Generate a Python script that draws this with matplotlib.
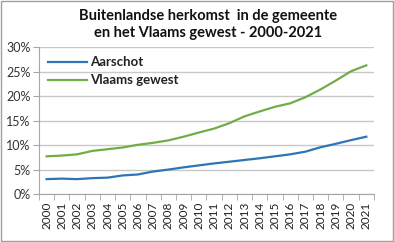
import numpy as np
import matplotlib
matplotlib.use("Agg")
import matplotlib.pyplot as plt
from matplotlib.ticker import FuncFormatter, FixedLocator

years = list(range(2000, 2022))
aarschot = [3.1, 3.2, 3.1, 3.3, 3.4, 3.85, 4.05, 4.65, 5.05, 5.5, 5.9,
            6.3, 6.65, 7.0, 7.35, 7.75, 8.15, 8.7, 9.6, 10.3, 11.05, 11.75]
vlaams = [7.75, 7.9, 8.15, 8.85, 9.2, 9.55, 10.1, 10.5, 11.0, 11.75, 12.6,
          13.4, 14.5, 15.9, 16.9, 17.85, 18.55, 19.8, 21.4, 23.2, 25.1, 26.3]

plt.rcParams['font.family'] = ['Lato', 'DejaVu Sans']

fig = plt.figure(figsize=(3.94, 2.42), dpi=100)
ax = fig.add_axes([0.099, 0.197, 0.850, 0.608])

x = np.arange(len(years))
ax.plot(x, aarschot, color='#2e75b6', lw=1.6, label='Aarschot')
ax.plot(x, vlaams, color='#70ad47', lw=1.6, label='Vlaams gewest')

ax.set_xlim(-0.5, len(years) - 0.5)
ax.set_ylim(0, 30)
ax.set_yticks(range(0, 31, 5))
ax.yaxis.set_major_formatter(FuncFormatter(lambda v, p: f'{v:.0f}%'))
ax.grid(axis='y', color='#c8c8c8', lw=1.0)
ax.set_axisbelow(True)

ax.set_xticks(x)
ax.set_xticklabels([str(y) for y in years], rotation=90, fontsize=8.5, color='#222222')
ax.xaxis.set_minor_locator(FixedLocator(np.arange(-0.5, len(years), 1)))
ax.tick_params(axis='x', which='major', length=0, pad=5)
ax.tick_params(axis='x', which='minor', length=4, color='#a6a6a6', direction='out')
ax.tick_params(axis='y', length=4, color='#a6a6a6', labelsize=9, labelcolor='#333333', pad=2)

for s in ['top', 'right']:
    ax.spines[s].set_visible(False)
for s in ['left', 'bottom']:
    ax.spines[s].set_color('#a6a6a6')
    ax.spines[s].set_linewidth(0.8)

leg = ax.legend(loc='upper left', frameon=False, fontsize=9.5, handlelength=2.9,
                handletextpad=0.3, labelspacing=0.45, borderaxespad=0.3)
for t in leg.get_texts():
    t.set_fontweight('bold')
    t.set_color('#222222')

fig.text(0.528, 0.90, 'Buitenlandse herkomst  in de gemeente\nen het Vlaams gewest - 2000-2021',
         ha='center', va='center', fontsize=10.5, fontweight='bold', linespacing=1.3,
         color='#111111')

fig.patches.append(plt.Rectangle((0.002, 0.003), 0.995, 0.993, transform=fig.transFigure,
                                 fill=False, edgecolor='#a0a0a0', lw=1))

fig.savefig('out.png', dpi=100)
